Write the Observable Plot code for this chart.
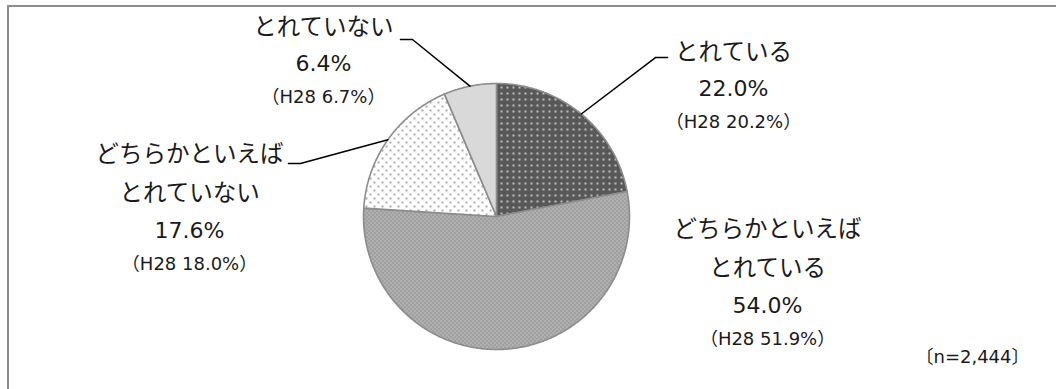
<!DOCTYPE html>
<html>
<head>
<meta charset="utf-8">
<script src="https://cdn.jsdelivr.net/npm/d3@7"></script>
<script src="https://cdn.jsdelivr.net/npm/@observablehq/plot@0.6"></script>
<style>
  html, body { margin: 0; padding: 0; background: #fff; }
  #wrap { position: relative; width: 1056px; height: 389px; overflow: hidden; }
  #frame { position: absolute; left: 7px; top: 5px; width: 1200px; height: 500px;
           border-top: 2px solid #8c8c8c; border-left: 2px solid #8c8c8c; }
  #chart { position: absolute; left: 0; top: 0; }
</style>
</head>
<body>
<div id="wrap"><div id="frame"></div><div id="chart"></div></div>
<script>
// ---- data ----
const categories = ["とれている", "どちらかといえば\nとれている", "どちらかといえば\nとれていない", "とれていない"];
const values = [22.0, 54.0, 17.6, 6.4];
const h28Values = [20.2, 51.9, 18.0, 6.7];
const sampleNote = "〔n=2,444〕";

// ---- layout (in pie-radius units, centre = 0,0) ----
const labelAnchors = [[1.782, 0.962], [2.038, -0.669], [-2.308, -0.105], [-1.301, 1.150]];
const leaderElbows = [[1.195, 1.195], null, [-1.474, 0.398], [-0.632, 1.331]];
const leaderEnds   = [[1.286, 1.195], null, [-1.564, 0.398], [-0.722, 1.331]];
const fills = ["url(#pDark)", "url(#pMid)", "url(#pDots)", "#d9d9d9"];
const notePos = [3.579, -1.06];

const W = 1056, H = 389, R = 133, CX = 496, CY = 216;

const arcs = d3.pie().sort(null).value(d => d)(values);
const slicePts = arcs.map((a, i) => {
  const pts = [{i, x: 0, y: 0}];
  const n = Math.max(2, Math.ceil((a.endAngle - a.startAngle) / (Math.PI / 360)));
  for (let k = 0; k <= n; k++) {
    const t = a.startAngle + (a.endAngle - a.startAngle) * k / n;
    pts.push({i, x: Math.sin(t), y: Math.cos(t)});
  }
  return pts;
});

const leaders = [];
arcs.forEach((a, i) => {
  if (!leaderElbows[i]) return;
  const m = (a.startAngle + a.endAngle) / 2;
  leaders.push({i, x: Math.sin(m), y: Math.cos(m)});
  leaders.push({i, x: leaderElbows[i][0], y: leaderElbows[i][1]});
  leaders.push({i, x: leaderEnds[i][0], y: leaderEnds[i][1]});
});

const labels = categories.map((c, i) => ({
  name: c, pct: values[i].toFixed(1) + "%", h28: `（H28 ${h28Values[i].toFixed(1)}%）`,
  x: labelAnchors[i][0], y: labelAnchors[i][1]
}));

const font = "'DejaVu Sans', 'Noto Sans CJK JP', sans-serif";

const svg = Plot.plot({
  width: W, height: H,
  margin: 0,
  x: {domain: [-CX / R, (W - CX) / R], range: [0, W], axis: null},
  y: {domain: [-(H - CY) / R, CY / R], range: [H, 0], axis: null},
  style: {fontFamily: font, color: "#1a1a1a", background: "transparent"},
  marks: [
    ...slicePts.map((pts, i) => Plot.line(pts, {
      x: "x", y: "y", curve: "linear-closed",
      fill: fills[i], stroke: "#8c8c8c", strokeWidth: 1.6
    })),
    Plot.line(leaders, {x: "x", y: "y", z: "i", stroke: "#000", strokeWidth: 1.5}),
    Plot.text(labels, {x: "x", y: "y", text: "name", fontSize: 23.5, lineHeight: 1.7,
      lineAnchor: "bottom", dy: -29, fill: "#1a1a1a"}),
    Plot.text(labels, {x: "x", y: "y", text: "pct", fontSize: 22, fill: "#1a1a1a"}),
    Plot.text(labels, {x: "x", y: "y", text: "h28", fontSize: 18, dy: 34, fill: "#1a1a1a"}),
    Plot.text([sampleNote], {x: () => notePos[0], y: () => notePos[1], text: d => d, fontSize: 18, fill: "#1a1a1a"})
  ]
});

const defs = d3.select(svg).insert("defs", ":first-child");
const p1 = defs.append("pattern").attr("id", "pDark").attr("patternUnits", "userSpaceOnUse").attr("width", 6).attr("height", 6);
p1.append("rect").attr("width", 6).attr("height", 6).attr("fill", "#585858");
p1.append("circle").attr("cx", 3).attr("cy", 3).attr("r", 1.1).attr("fill", "#d4d4d4");
const p2 = defs.append("pattern").attr("id", "pMid").attr("patternUnits", "userSpaceOnUse").attr("width", 4).attr("height", 4);
p2.append("rect").attr("width", 4).attr("height", 4).attr("fill", "#a0a0a0");
p2.append("rect").attr("x", 0).attr("y", 0).attr("width", 1).attr("height", 1).attr("fill", "#dcdcdc");
p2.append("rect").attr("x", 2).attr("y", 2).attr("width", 1).attr("height", 1).attr("fill", "#dcdcdc");
const p3 = defs.append("pattern").attr("id", "pDots").attr("patternUnits", "userSpaceOnUse").attr("width", 8).attr("height", 8);
p3.append("rect").attr("width", 8).attr("height", 8).attr("fill", "#ffffff");
p3.append("circle").attr("cx", 2).attr("cy", 2).attr("r", 1).attr("fill", "#8c8c8c");
p3.append("circle").attr("cx", 6).attr("cy", 6).attr("r", 1).attr("fill", "#8c8c8c");

document.getElementById("chart").appendChild(svg);
</script>
</body>
</html>
